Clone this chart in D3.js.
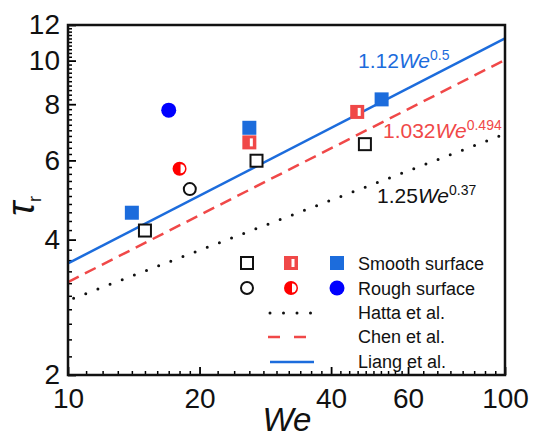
<!DOCTYPE html>
<html>
<head>
<meta charset="utf-8">
<script src="https://cdn.jsdelivr.net/npm/d3@7"></script>
<style>
  body { margin: 0; background: #fff; }
  text { font-family: "Liberation Sans", Arial, sans-serif; }
</style>
</head>
<body>
<div id="chart"></div>
<script>
// smooth surface (squares)
const openSqWe = [15, 27, 47.8], openSqTau = [4.19, 5.99, 6.52];
const halfSqWe = [26, 45.9], halfSqTau = [6.58, 7.69];
const solidSqWe = [14, 26, 52.2], solidSqTau = [4.59, 7.09, 8.2];
// rough surface (circles)
const openCirWe = [19], openCirTau = [5.18];
const halfCirWe = [18], halfCirTau = [5.75];
const solidCirWe = [17], solidCirTau = [7.76];

// power law fits  tau = a * We^b
const fitNames = ["Hatta et al.", "Chen et al.", "Liang et al."];
const fitA = [1.25, 1.032, 1.12];
const fitB = [0.37, 0.494, 0.5];

const xMajor = [10, 20, 40, 60, 100];
const yMajor = [2, 4, 6, 8, 10, 12];

var width = 535, height = 437;
var pLeft = 68, pRight = 505, pTop = 25, pBottom = 375;

var red = "#f04848", blue = "#1c6cdc", pureBlue = "#0000ff", pureRed = "#ff0000";

const svg = d3.select("#chart").append("svg")
  .attr("width", width).attr("height", height);

const x = d3.scaleLog().domain([10, 100]).range([pLeft, pRight]);
const y = d3.scaleLog().domain([2, 12]).range([pBottom, pTop]);

// minor ticks
var xMinor = d3.range(11, 20, 1).concat(d3.range(22, 40, 2), d3.range(42, 60, 2), d3.range(65, 100, 5));
var yMinor = d3.range(2.2, 12, 0.2).filter(v => Math.abs(v - Math.round(v / 2) * 2) > 0.05);

svg.append("g")
  .attr("transform", "translate(0," + pBottom + ")")
  .call(d3.axisBottom(x).tickValues(xMinor).tickSize(-4).tickFormat(""))
  .call(g => g.select(".domain").remove())
  .selectAll("line").attr("stroke-width", 1.5);

svg.append("g")
  .attr("transform", "translate(0," + pBottom + ")")
  .call(d3.axisBottom(x).tickValues(xMajor).tickSize(-8).tickPadding(13).tickFormat(d3.format("d")))
  .call(g => g.select(".domain").remove())
  .call(g => g.selectAll("line").attr("stroke-width", 1.8))
  .call(g => g.selectAll("text").attr("font-size", 28).attr("fill", "#111")
    .attr("font-family", "Liberation Sans, Arial, sans-serif"));

svg.append("g")
  .attr("transform", "translate(" + pLeft + ",0)")
  .call(d3.axisLeft(y).tickValues(yMinor).tickSize(-4).tickFormat(""))
  .call(g => g.select(".domain").remove())
  .selectAll("line").attr("stroke-width", 1.5);

svg.append("g")
  .attr("transform", "translate(" + pLeft + ",0)")
  .call(d3.axisLeft(y).tickValues(yMajor).tickSize(-8).tickPadding(8).tickFormat(d3.format("d")))
  .call(g => g.select(".domain").remove())
  .call(g => g.selectAll("line").attr("stroke-width", 1.8))
  .call(g => g.selectAll("text").attr("font-size", 28).attr("fill", "#111")
    .attr("font-family", "Liberation Sans, Arial, sans-serif"));

// fit lines
var fitStyle = [
  { color: "#111", dash: "0,13", width: 3, cap: "round" },
  { color: red, dash: "12,7", width: 2.5, cap: "butt" },
  { color: blue, dash: null, width: 2.5, cap: "butt" }
];
var line = d3.line().x(d => x(d[0])).y(d => y(d[1]));
fitA.forEach((a, i) => {
  var pts = [10, 100].map(w => [w, a * Math.pow(w, fitB[i])]);
  svg.append("path")
    .attr("d", line(pts))
    .attr("fill", "none")
    .attr("stroke", fitStyle[i].color)
    .attr("stroke-width", fitStyle[i].width)
    .attr("stroke-linecap", fitStyle[i].cap)
    .attr("stroke-dasharray", fitStyle[i].dash)
    .attr("stroke-dashoffset", i == 0 ? -6 : 0);
});

// frame
svg.append("path")
  .attr("d", "M" + pLeft + "," + pTop + "H" + pRight + "V" + pBottom + "H" + pLeft + "Z")
  .attr("fill", "none").attr("stroke", "#111").attr("stroke-width", 2.5);

// marker helpers
var s = 14, r = 7;
function openSquare(g) {
  g.append("rect").attr("x", -s / 2 + 1).attr("y", -s / 2 + 1).attr("width", s - 2).attr("height", s - 2)
    .attr("fill", "#fff").attr("stroke", "#111").attr("stroke-width", 2);
}
function halfSquare(g) {
  g.append("rect").attr("x", -s / 2).attr("y", -s / 2).attr("width", s).attr("height", s).attr("fill", red);
  g.append("rect").attr("x", 0.5).attr("y", -4).attr("width", 3).attr("height", 8).attr("fill", "#fff");
}
function solidSquare(g) {
  g.append("rect").attr("x", -s / 2).attr("y", -s / 2).attr("width", s).attr("height", s).attr("fill", blue);
}
function openCircle(g) {
  g.append("circle").attr("r", r - 1).attr("fill", "#fff").attr("stroke", "#111").attr("stroke-width", 2);
}
function halfCircle(g) {
  g.append("circle").attr("r", r).attr("fill", pureRed);
  g.append("path").attr("d", "M1,-4.5A4.5,4.5 0 0 1 1,4.5Z").attr("fill", "#fff");
}
function solidCircle(g) {
  g.append("circle").attr("r", r + 0.5).attr("fill", pureBlue);
}

function plot(we, tau, draw) {
  we.forEach((w, i) => {
    var g = svg.append("g").attr("transform", "translate(" + x(w) + "," + y(tau[i]) + ")");
    draw(g);
  });
}
plot(openSqWe, openSqTau, openSquare);
plot(halfSqWe, halfSqTau, halfSquare);
plot(solidSqWe, solidSqTau, solidSquare);
plot(openCirWe, openCirTau, openCircle);
plot(halfCirWe, halfCirTau, halfCircle);
plot(solidCirWe, solidCirTau, solidCircle);

// fit labels
function fitLabel(xp, yp, a, b, color) {
  var t = svg.append("text").attr("x", xp).attr("y", yp).attr("fill", color).attr("font-size", 21);
  t.append("tspan").text(a);
  t.append("tspan").attr("font-style", "italic").text("We");
  t.append("tspan").attr("font-size", 14).attr("dy", -8).text(b);
}
fitLabel(358, 68, fitA[2], fitB[2], blue);
fitLabel(383, 138, fitA[1], fitB[1], red);
fitLabel(377, 203, fitA[0], fitB[0], "#111");

// legend
var legRows = [270, 295, 319, 343, 368];
var legCols = [247, 291, 337];
[openSquare, halfSquare, solidSquare].forEach((f, i) => {
  f(svg.append("g").attr("transform", "translate(" + legCols[i] + "," + (legRows[0] - 7) + ")"));
});
[openCircle, halfCircle, solidCircle].forEach((f, i) => {
  f(svg.append("g").attr("transform", "translate(" + legCols[i] + "," + (legRows[1] - 7) + ")"));
});
fitStyle.forEach((st, i) => {
  var yy = legRows[i + 2] - 6;
  svg.append("line")
    .attr("x1", i == 1 ? 268 : 270).attr("x2", i == 1 ? 306 : 314)
    .attr("y1", yy).attr("y2", yy)
    .attr("stroke", st.color).attr("stroke-width", st.width)
    .attr("stroke-linecap", st.cap)
    .attr("stroke-dasharray", i == 0 ? "0,13.5" : (i == 1 ? "12,14" : null));
});
var legText = ["Smooth surface", "Rough surface"].concat(fitNames);
legText.forEach((t, i) => {
  svg.append("text").attr("x", 358).attr("y", legRows[i])
    .attr("font-size", 18).attr("fill", "#111").text(t);
});

// axis titles
svg.append("text").attr("x", 287).attr("y", 431).attr("text-anchor", "middle")
  .attr("font-size", 33).attr("font-style", "italic").attr("fill", "#111").text("We");

var yl = svg.append("text")
  .attr("transform", "translate(34,206) rotate(-90)")
  .attr("text-anchor", "middle").attr("fill", "#111")
  .attr("font-family", "Liberation Serif, serif").attr("font-style", "italic").attr("font-size", 38);
yl.append("tspan").text("τ");
yl.append("tspan").attr("font-family", "Liberation Sans, Arial, sans-serif")
  .attr("font-style", "normal").attr("font-size", 18).attr("dy", 7).text("r");
</script>
</body>
</html>
